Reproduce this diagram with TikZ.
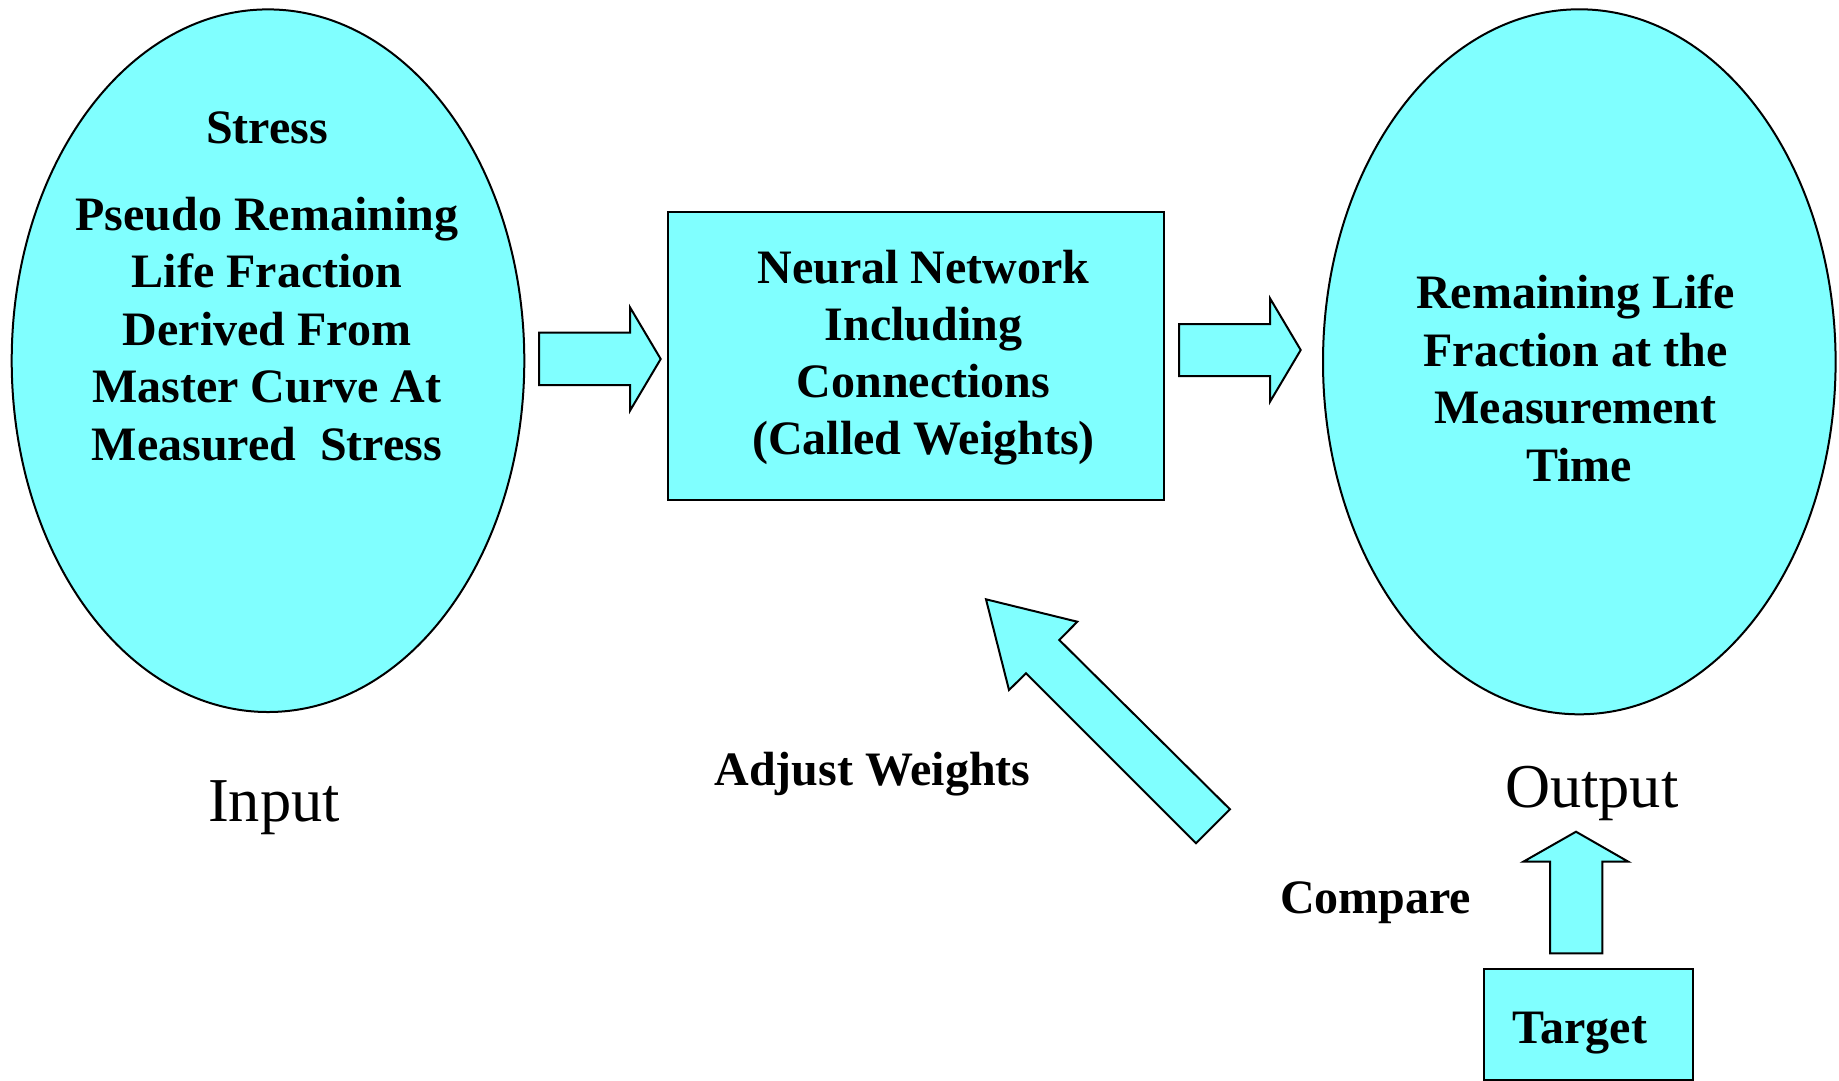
\documentclass[tikz,border=0pt]{standalone}
\usepackage{fontspec}
\setmainfont{Liberation Serif}
\usetikzlibrary{shapes.geometric}
\definecolor{cyanfill}{RGB}{128,255,255}
\begin{document}
\begin{tikzpicture}[x=1pt,y=-1pt,
  fillshape/.style={draw=black, line width=2pt, fill=cyanfill, line join=miter},
  bt/.style={anchor=base, inner sep=0pt, font=\bfseries\fontsize{48}{57.5}\selectfont},
  rt/.style={anchor=base, inner sep=0pt, font=\fontsize{62.4}{75}\selectfont}]
\useasboundingbox (0,0) rectangle (1839,1080);

% main shapes
\node[fillshape, ellipse, inner sep=0pt, minimum width=512.6pt, minimum height=702.6pt] (inp) at (268,360.7) {};
\node[fillshape, ellipse, inner sep=0pt, minimum width=512.6pt, minimum height=705pt] (outp) at (1579.3,361.8) {};
\node[fillshape, rectangle, inner sep=0pt, anchor=north west, minimum width=496.6pt, minimum height=288.3pt] (nn) at (666.7,210.7) {};
\node[fillshape, rectangle, inner sep=0pt, anchor=north west, minimum width=209pt, minimum height=110.7pt] (tgt) at (1482.7,968.3) {};

% block arrows
\draw[fillshape] (539,332.7) -- (630,332.7) -- (630,307.3) -- (660.7,359) -- (630,410.7) -- (630,385) -- (539,385) -- cycle;
\draw[fillshape] (1179,324) -- (1270,324) -- (1270,298.3) -- (1300.7,350) -- (1270,401.7) -- (1270,376) -- (1179,376) -- cycle;
\draw[fillshape] (986,599.3) -- (1077.3,621.7) -- (1059.3,640) -- (1230,809.3) -- (1196,843.3) -- (1026,673.3) -- (1009,690) -- cycle;
\draw[fillshape] (1576,831.7) -- (1628.3,861.7) -- (1602.3,861.7) -- (1602.3,953.3) -- (1550,953.3) -- (1550,861.7) -- (1523.3,861.7) -- cycle;

% left ellipse text
\node[bt] (l0) at (267,143.3) {Stress};
\node[bt] (l1) at (267,230) {Pseudo Remaining};
\node[bt] (l2) at (267,287.5) {Life Fraction};
\node[bt] (l3) at (267,345) {Derived From};
\node[bt] (l4) at (267,402.5) {Master Curve At};
\node[bt] (l5) at (267,460) {Measured\ \ Stress};

% middle box text
\node[bt] (m1) at (923.5,283.3) {Neural Network};
\node[bt] (m2) at (923.5,340.3) {Including};
\node[bt] (m3) at (923.5,397) {Connections};
\node[bt] (m4) at (923.5,454) {(Called Weights)};

% right ellipse text
\node[bt] (r1) at (1575.5,308.3) {Remaining Life};
\node[bt] (r2) at (1575.5,366) {Fraction at the};
\node[bt] (r3) at (1575.5,423.5) {Measurement};
\node[bt] (r4) at (1579,481.5) {Time};

% labels
\node[rt] (linput) at (274,821.7) {Input};
\node[rt] (loutput) at (1591.7,807.5) {Output};
\node[bt] (ladjust) at (872.5,785) {Adjust Weights};
\node[bt] (lcompare) at (1375.7,913.3) {Compare};
\node[bt] (ltarget) at (1580,1043.5) {Target};
\end{tikzpicture}
\end{document}
